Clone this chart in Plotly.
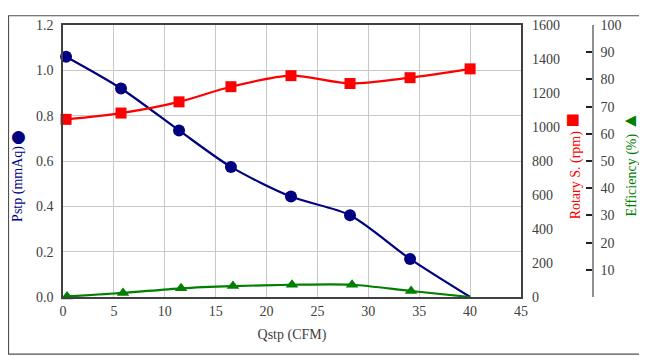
import plotly.graph_objects as go

# Data
qstp = [0.3, 5.7, 11.4, 16.5, 22.4, 28.2, 34.1, 40.0]
pstp = [1.06, 0.92, 0.735, 0.574, 0.443, 0.361, 0.168, 0.0]
rotary = [1045, 1082, 1148, 1237, 1302, 1256, 1290, 1342]
eff_q = [0.4, 5.9, 11.6, 16.7, 22.5, 28.4, 34.2, 40.0]
efficiency = [0.2, 1.5, 3.2, 4.0, 4.5, 4.5, 2.2, 0.0]

x_ticks = [0, 5, 10, 15, 20, 25, 30, 35, 40, 45]
eff_ticks = [10, 20, 30, 40, 50, 60, 70, 80, 90, 100]

NAVY = "#000080"
RED = "#FF0000"
GREEN = "#008000"
FONT = "Liberation Serif, Times New Roman, serif"
TXT = "#404040"

OFF = 8  # page offset of the figure in the browser
W, H = 647 - OFF, 356 - OFF
PLOT_L, PLOT_R, PLOT_T, PLOT_B, AX3 = 63, 521, 18, 297, 593
L = PLOT_L - OFF
T = PLOT_T - OFF
R = W - (AX3 - OFF)
B = H - (PLOT_B - OFF)
PW = W - L - R
PH = H - T - B

tickfont = dict(family=FONT, size=14, color=TXT)

fig = go.Figure()

fig.add_trace(go.Scatter(
    x=qstp, y=pstp, mode="lines+markers", yaxis="y",
    line=dict(color=NAVY, width=2.2, shape="spline", smoothing=0.8),
    marker=dict(symbol="circle", color=NAVY, size=[12] * 7 + [0], opacity=1,
                line=dict(width=0)),
    showlegend=False, cliponaxis=False))

fig.add_trace(go.Scatter(
    x=qstp, y=rotary, mode="lines+markers", yaxis="y2",
    line=dict(color=RED, width=2.2, shape="spline", smoothing=0.8),
    marker=dict(symbol="square", color=RED, size=11, opacity=1, line=dict(width=0)),
    showlegend=False, cliponaxis=False))

fig.add_trace(go.Scatter(
    x=eff_q, y=efficiency, mode="lines+markers", yaxis="y3",
    line=dict(color=GREEN, width=2.2, shape="spline", smoothing=0.8),
    marker=dict(symbol="triangle-up", color=GREEN, size=[11] * 7 + [0], opacity=1,
                line=dict(width=0)),
    showlegend=False, cliponaxis=False))

xdom_end = (PLOT_R - PLOT_L) / PW

fig.update_layout(
    width=W, height=H,
    margin=dict(l=L, r=R, t=T, b=B, pad=0),
    paper_bgcolor="white", plot_bgcolor="white",
    font=dict(family=FONT, size=14, color=TXT),
    xaxis=dict(domain=[0, xdom_end], range=[0, 45], tickvals=x_ticks, tickfont=tickfont,
               showgrid=True, gridcolor="#c8c8c8", gridwidth=1,
               showline=True, linecolor="#404040", linewidth=1.5, mirror=True,
               ticks="", zeroline=False,
               title=dict(text="Qstp (CFM)", font=dict(family=FONT, size=14, color=TXT), standoff=12)),
    yaxis=dict(range=[0, 1.2], dtick=0.2, tickformat=".1f", tickfont=tickfont,
               ticklabelstandoff=5,
               showgrid=True, gridcolor="#c8c8c8", gridwidth=1,
               showline=True, linecolor="#404040", linewidth=1.5, mirror=True,
               ticks="", zeroline=False),
    yaxis2=dict(range=[0, 1600], dtick=200, overlaying="y", side="right", anchor="x",
                tickfont=tickfont, ticklabelstandoff=10,
                showgrid=False, showline=False, zeroline=False, ticks=""),
    yaxis3=dict(range=[0, 100], tickvals=eff_ticks, overlaying="y", side="right",
                anchor="free", position=1.0, tickfont=tickfont, ticklabelstandoff=4,
                showgrid=False, showline=True, linecolor="#909090", linewidth=1.5,
                ticks="inside", ticklen=6, tickcolor="#202020", tickwidth=1.5,
                zeroline=False),
)

def px_x(px):
    return (px - OFF - L) / PW

def px_y(py):
    return (H - B - (py - OFF)) / PH

fig.add_annotation(xref="paper", yref="paper", x=px_x(18), y=px_y(181),
                   text="Pstp (mmAq)",
                   textangle=-90, showarrow=False, xanchor="center", yanchor="middle",
                   font=dict(family=FONT, size=14, color=NAVY))
fig.add_annotation(xref="paper", yref="paper", x=px_x(18), y=px_y(132),
                   text="●", showarrow=False, xanchor="center", yanchor="middle",
                   font=dict(family="DejaVu Sans", size=17, color=NAVY))
fig.add_annotation(xref="paper", yref="paper", x=px_x(572), y=px_y(163),
                   text="Rotary S. (rpm) <span style='font-size:24px'>■</span>",
                   textangle=-90, showarrow=False, xanchor="center", yanchor="middle",
                   font=dict(family=FONT, size=14, color=RED))
fig.add_annotation(xref="paper", yref="paper", x=px_x(629), y=px_y(161),
                   text="Efficiency (%) <span style='font-size:19px'>▲</span>",
                   textangle=-90, showarrow=False, xanchor="center", yanchor="middle",
                   font=dict(family=FONT, size=14, color=GREEN))

# outer frame of the picture
fig.add_shape(type="rect", xref="paper", yref="paper",
              x0=px_x(OFF + 0.5), x1=px_x(646.5), y0=px_y(355.5), y1=px_y(OFF + 0.5),
              line=dict(color="#505050", width=1.2), fillcolor="rgba(0,0,0,0)", layer="above")

fig.write_html("out.html")
